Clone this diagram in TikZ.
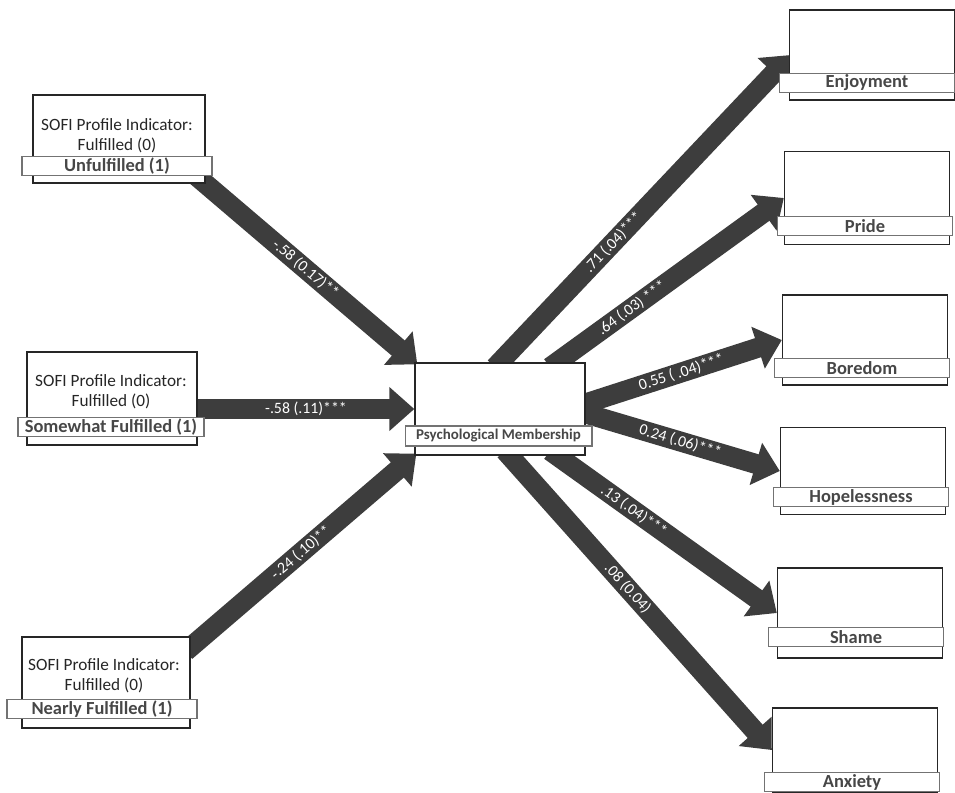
\documentclass[tikz,border=0pt]{standalone}
\usepackage{fontspec}
\setmainfont{Carlito}
\usetikzlibrary{arrows.meta, backgrounds}

\begin{document}
\begin{tikzpicture}[x=0.02cm, y=-0.02cm,
	box/.style={draw=black!85, line width=0.8pt, fill=white, minimum width=3.3cm, minimum height=1.8cm, inner sep=0pt},
	bar/.style={draw=black!55, line width=0.6pt, fill=white, minimum width=3.5cm, minimum height=0.38cm, inner sep=0pt, text=black!72, font=\fontsize{10.5}{12}\selectfont\bfseries},
	info/.style={align=center, inner sep=0pt, text=black!85, font=\fontsize{9.8}{11.5}\selectfont},
	link/.style={draw=black!76, line width=0.4cm, -{Triangle[length=0.5cm, width=0.85cm]}},
	coef/.style={sloped, inner sep=1pt, text=white, font=\fontsize{9}{10}\selectfont}]
	
	\useasboundingbox (0,0) rectangle (955,792);
	
	% predictors
	\node[box, minimum width=3.44cm, minimum height=1.76cm] (unf) at (119,139) {};
	\node[bar, minimum width=3.8cm] (unfbar) at (117,166) {Unfulfilled (1)};
	\node[info] (unftxt) at (117,136) {SOFI Profile Indicator:\\Fulfilled (0)};
	
	\node[box, minimum width=3.4cm, minimum height=1.86cm] (som) at (112,398.5) {};
	\node[bar, minimum width=3.72cm] (sombar) at (111,427) {Somewhat Fulfilled (1)};
	\node[info] (somtxt) at (111,392) {SOFI Profile Indicator:\\Fulfilled (0)};
	
	\node[box, minimum width=3.36cm, minimum height=1.82cm] (nea) at (106,682.5) {};
	\node[bar, minimum width=3.8cm] (neabar) at (102,709) {Nearly Fulfilled (1)};
	\node[info] (neatxt) at (104,676) {SOFI Profile Indicator:\\Fulfilled (0)};
	
	% mediator
	\node[box, minimum width=3.4cm, minimum height=1.84cm] (psy) at (500,409) {};
	\node[bar, minimum width=3.74cm, minimum height=0.4cm, font=\fontsize{8.5}{10}\selectfont\bfseries] (psybar) at (498.5,436) {Psychological Membership};
	
	% emotions
	\node[box] (enj) at (872,55) {};
	\node[bar] (enjbar) at (867,83) {Enjoyment};
	\node[box, minimum height=1.86cm] (pri) at (867,198) {};
	\node[bar] (pribar) at (865,226) {Pride};
	\node[box] (bor) at (865,340) {};
	\node[bar] (borbar) at (862,368) {Boredom};
	\node[box, minimum height=1.74cm] (hop) at (863,471) {};
	\node[bar] (hopbar) at (861,497) {Hopelessness};
	\node[box] (sha) at (860,613) {};
	\node[bar] (shabar) at (856,637) {Shame};
	\node[box, minimum height=1.68cm] (anx) at (855,750) {};
	\node[bar] (anxbar) at (852,782) {Anxiety};
	
	\begin{scope}[on background layer]
		\draw[link] ([shift={(-12,-10)}]unf.south east) -- ([shift={(3,2)}]psy.north west) node[coef, midway] {-.58 (0.17)**};
		\draw[link] (som.east |- psy.west) -- (psy.west) node[coef, midway] {-.58 (.11)***};
		\draw[link] ([shift={(-5,15)}]nea.north east) -- ([shift={(2,-2)}]psy.south west) node[coef, midway] {-.24 (.10)**};
		
		\draw[link] ([shift={(-5,5)}]psy.north) -- ([shift={(2,0)}]enj.west) node[coef, pos=0.4] {.71 (.04)***};
		\draw[link] ([shift={(50,5)}]psy.north) -- (pri.west) node[coef, pos=0.35] {.64 (.03) ***};
		\draw[link] ([shift={(-5,-4)}]psy.east) -- (bor.west) node[coef, midway] {0.55 ( .04)***};
		\draw[link] ([shift={(-5,3)}]psy.east) -- (hop.west) node[coef, midway] {0.24 (.06)***};
		\draw[link] ([shift={(50,-5)}]psy.south) -- (sha.west) node[coef, pos=0.37] {.13 (.04)***};
		\draw[link] ([shift={(5,-5)}]psy.south) -- (anx.west) node[coef, pos=0.46] {.08 (0.04)};
	\end{scope}
	
\end{tikzpicture}
\end{document}
